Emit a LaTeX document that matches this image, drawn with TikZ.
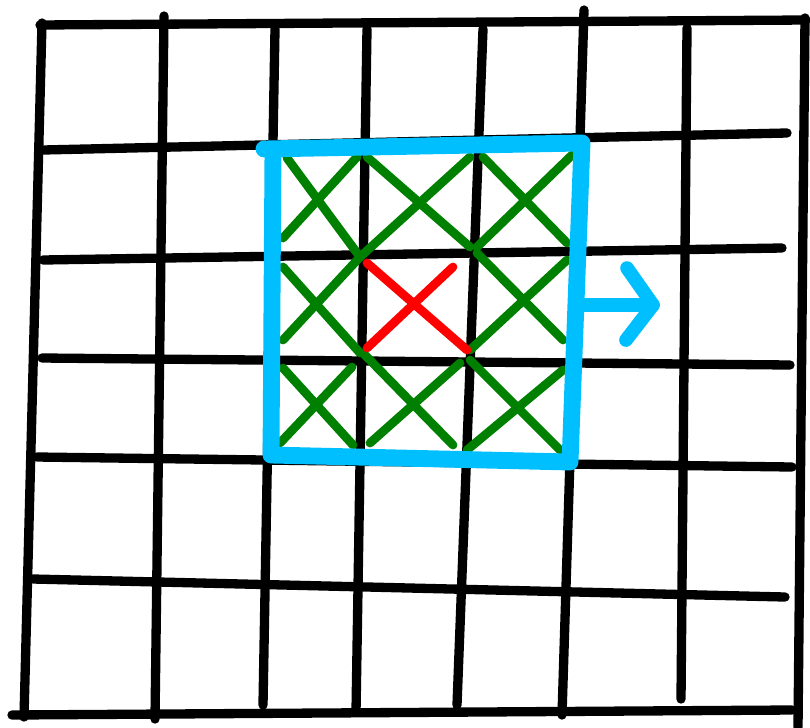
\documentclass[tikz,border=0pt]{standalone}
\definecolor{boxcyan}{RGB}{0,191,255}
\definecolor{crossgreen}{RGB}{0,128,0}
\definecolor{crossred}{RGB}{255,0,0}
\begin{document}
\begin{tikzpicture}[x=0.02cm,y=-0.02cm,
    gridline/.style={line width=5.3pt,line cap=round},
    greenx/.style={crossgreen,line width=5pt,line cap=round},
    redx/.style={crossred,line width=5pt,line cap=round},
    window/.style={boxcyan,line width=9.6pt,line cap=round,line join=round},
    shift arrow/.style={boxcyan,line width=7.8pt,line cap=round,line join=round}]

                \useasboundingbox (0,0) rectangle (810,727);

                % Grid: vertical lines
                \draw[gridline] (42,23) -- (24,717);
                \draw[gridline] (164,16) -- (155,719);
                \draw[gridline] (275,29) -- (263,705);
                \draw[gridline] (367,29) -- (356,712);
                \draw[gridline] (483,29) -- (457,705);
                \draw[gridline] (584,10) -- (562,715);
                \draw[gridline] (687,28) -- (681,699);
                \draw[gridline] (805,18) -- (798,727);

                % Grid: horizontal lines
                \draw[gridline] (40,25) -- (806,20);
                \draw[gridline] (43,150) -- (787,133);
                \draw[gridline] (43,260) -- (782,248);
                \draw[gridline] (42,358) -- (790,365);
                \draw[gridline] (37,457) -- (792,467);
                \draw[gridline] (33,579) -- (785,597);
                \draw[gridline] (12,715) -- (792,710);

                % Green crosses (neighbours)
                \draw[greenx] (287,158) -- (360,257); % top left
                \draw[greenx] (283,238) -- (357,157);
                \draw[greenx] (367,157) -- (470,247); % top middle
                \draw[greenx] (360,257) -- (470,157);
                \draw[greenx] (483,157) -- (567,243); % top right
                \draw[greenx] (477,247) -- (572,155);
                \draw[greenx] (283,267) -- (360,353); % middle left
                \draw[greenx] (283,340) -- (360,257);
                \draw[greenx] (477,253) -- (563,340); % middle right
                \draw[greenx] (470,350) -- (567,260);
                \draw[greenx] (283,368) -- (353,445); % bottom left
                \draw[greenx] (280,443) -- (352,367);
                \draw[greenx] (363,353) -- (453,445); % bottom middle
                \draw[greenx] (370,443) -- (460,363);
                \draw[greenx] (470,360) -- (560,450); % bottom right
                \draw[greenx] (467,450) -- (563,370);

                % Red cross (centre cell)
                \draw[redx] (367,263) -- (467,350);
                \draw[redx] (367,348) -- (453,267);

                % Cyan window
                \draw[window] (264,149) -- (582,143) -- (570,462) -- (271,455) -- (273,149);

                % Arrow to the right
                \draw[shift arrow] (583,305) -- (653,305);
                \draw[shift arrow] (627,268) -- (653,305) -- (626,340);

                \end{tikzpicture}
\end{document}
